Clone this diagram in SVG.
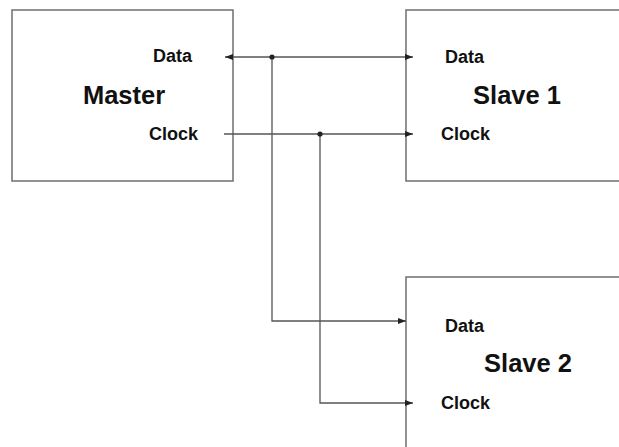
<svg xmlns="http://www.w3.org/2000/svg" width="619" height="447" viewBox="0 0 619 447">
<style>
.box{fill:#fff;stroke:#777;stroke-width:1.6}
.wire{fill:none;stroke:#555;stroke-width:1.3}
.lbl{font-family:"Liberation Sans",Arial,sans-serif;font-weight:bold;font-size:18px;fill:#111}
.ttl{font-family:"Liberation Sans",Arial,sans-serif;font-weight:bold;font-size:25.5px;fill:#111}
.dot{fill:#222}
</style>
<defs>
<marker id="ah" viewBox="0 0 8 8" refX="8" refY="4" markerWidth="8" markerHeight="8" markerUnits="userSpaceOnUse" orient="auto">
<path d="M0,1 L8,4 L0,7 Z" fill="#222"/>
</marker>
</defs>
<rect width="619" height="447" fill="#fff"/>
<g id="master">
<rect class="box" x="12" y="10" width="221" height="171"/>
<text class="lbl" x="192" y="62" text-anchor="end">Data</text>
<text class="ttl" x="124" y="104" text-anchor="middle">Master</text>
<text class="lbl" x="198" y="140" text-anchor="end">Clock</text>
</g>
<g id="slave1">
<rect class="box" x="406" y="10" width="220" height="171"/>
<text class="lbl" x="445" y="63">Data</text>
<text class="ttl" x="517" y="104" text-anchor="middle">Slave 1</text>
<text class="lbl" x="441" y="140">Clock</text>
</g>
<g id="slave2">
<rect class="box" x="406" y="277" width="220" height="180"/>
<text class="lbl" x="445" y="332">Data</text>
<text class="ttl" x="528" y="372" text-anchor="middle">Slave 2</text>
<text class="lbl" x="441" y="409">Clock</text>
</g>
<g id="connectors">
<path class="wire" d="M272,57 L225,57" marker-end="url(#ah)"/>
<path class="wire" d="M272,57 L413,57" marker-end="url(#ah)"/>
<path class="wire" d="M224,134 L413,134" marker-end="url(#ah)"/>
<path class="wire" d="M272,57 L272,321 L406,321" marker-end="url(#ah)"/>
<path class="wire" d="M320,134 L320,403 L413,403" marker-end="url(#ah)"/>
<circle class="dot" cx="272" cy="57" r="2.6"/>
<circle class="dot" cx="320" cy="134" r="2.6"/>
</g>
</svg>
